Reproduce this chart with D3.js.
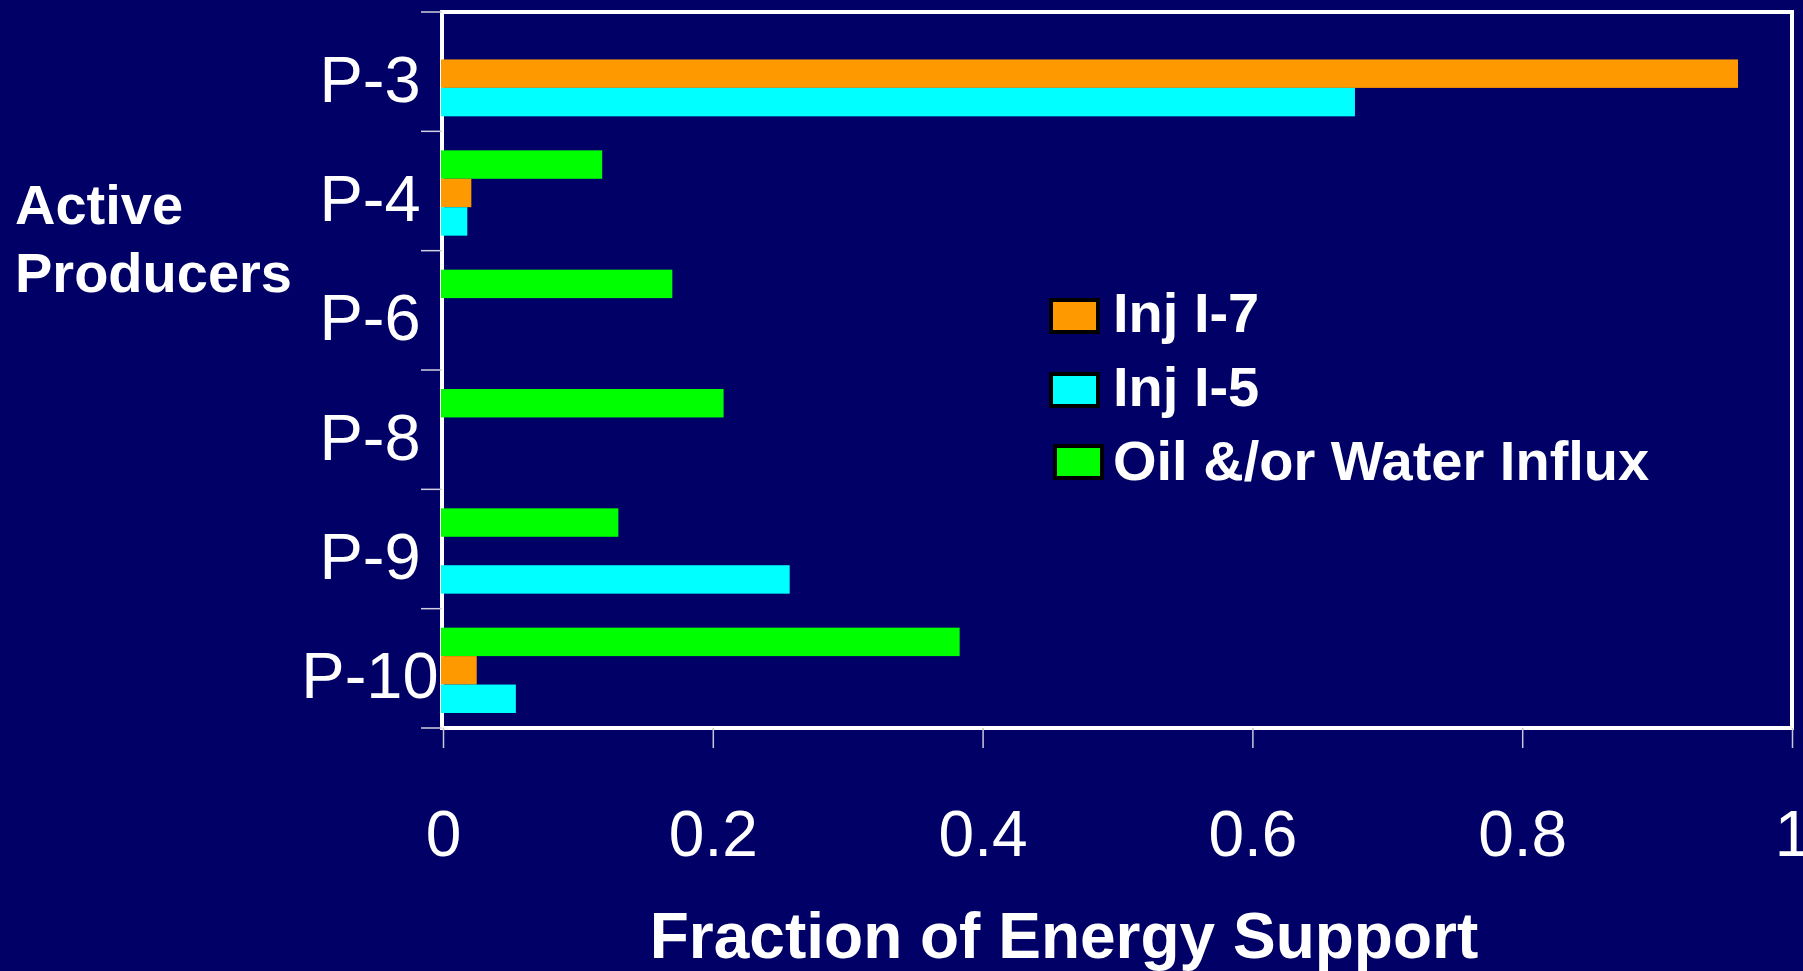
<!DOCTYPE html>
<html>
<head>
<meta charset="utf-8">
<script src="https://cdn.jsdelivr.net/npm/d3@7/dist/d3.min.js"></script>
<style>
  html, body { margin: 0; padding: 0; background: #000066; overflow: hidden; }
  svg { display: block; }
  text { font-family: "Liberation Sans", Arial, sans-serif; fill: #ffffff; }
</style>
</head>
<body>
<svg id="chart" width="1803" height="971"></svg>
<script>
// ---- Data ----
const categories = ["P-3", "P-4", "P-6", "P-8", "P-9", "P-10"];
const seriesNames = ["Inj I-7", "Inj I-5", "Oil &/or Water Influx"];
const inj7   = [0.960, 0.021, null, null, null, 0.025];
const inj5   = [0.676, 0.018, null, null, 0.257, 0.054];
const influx = [null, 0.118, 0.170, 0.208, 0.130, 0.383];
const xTicks = [0, 0.2, 0.4, 0.6, 0.8, 1];
const xTickLabels = ["0", "0.2", "0.4", "0.6", "0.8", "1"];

const colors = { "Inj I-7": "#FF9900", "Inj I-5": "#00FFFF", "Oil &/or Water Influx": "#00FF00" };
const valuesBySeries = { "Inj I-7": inj7, "Inj I-5": inj5, "Oil &/or Water Influx": influx };
// vertical order of bars inside a category (top to bottom)
const barOrder = ["Oil &/or Water Influx", "Inj I-7", "Inj I-5"];

// ---- Layout ----
const plot = { left: 442, right: 1792, top: 12, bottom: 728 };
const svg = d3.select("#chart");

const x = d3.scaleLinear().domain([0, 1]).range([plot.left + 1, plot.right]);
const y = d3.scaleBand().domain(categories).range([plot.top, plot.bottom]).paddingInner(0).paddingOuter(0);
const yInner = d3.scaleBand().domain(barOrder).range([19, y.bandwidth() - 15]).paddingInner(0).paddingOuter(0);

// Frame
svg.append("rect")
  .attr("x", plot.left).attr("y", plot.top)
  .attr("width", plot.right - plot.left).attr("height", plot.bottom - plot.top)
  .attr("fill", "none").attr("stroke", "#ffffff").attr("stroke-width", 4);

// Bars
const rows = [];
categories.forEach((c, i) => {
  barOrder.forEach(s => {
    const v = valuesBySeries[s][i];
    if (v != null && v > 0) rows.push({ c, s, v });
  });
});
svg.append("g").selectAll("rect").data(rows).join("rect")
  .attr("x", x(0) - 2)
  .attr("y", d => y(d.c) + yInner(d.s))
  .attr("width", d => x(d.v) - x(0) + 2)
  .attr("height", yInner.bandwidth())
  .attr("fill", d => colors[d.s]);

// X axis
const xAxis = d3.axisBottom(x).tickValues(xTicks).tickSize(20).tickFormat((d, i) => xTickLabels[i]);
const gx = svg.append("g").attr("transform", `translate(0,${plot.bottom})`).call(xAxis);
gx.select(".domain").remove();
gx.selectAll(".tick line").attr("stroke", "#c8c8dc").attr("stroke-width", 1.5);
gx.selectAll(".tick text")
  .attr("y", 128).attr("dy", 0)
  .attr("fill", "#ffffff")
  .style("font-size", "64px")
  .style("font-family", "'Liberation Sans', Arial, sans-serif");

// Y boundary ticks
const boundaries = categories.map(c => y(c)).concat([y.range()[1]]);
svg.append("g").selectAll("line").data(boundaries).join("line")
  .attr("x1", plot.left - 21).attr("x2", plot.left)
  .attr("y1", d => d).attr("y2", d => d)
  .attr("stroke", "#d0d0e0").attr("stroke-width", 1.5);

// Category labels
svg.append("g").selectAll("text").data(categories).join("text")
  .attr("x", 370)
  .attr("y", d => y(d) + y.bandwidth() / 2 + 30)
  .attr("text-anchor", "middle")
  .style("font-size", "65px")
  .text(d => d);

// Y title
const yt = svg.append("text").attr("x", 15).attr("y", 224)
  .style("font-size", "56px").style("font-weight", "bold");
yt.append("tspan").attr("x", 15).attr("y", 224).text("Active");
yt.append("tspan").attr("x", 15).attr("y", 292).text("Producers");

// X title
svg.append("text")
  .attr("x", 1064).attr("y", 958)
  .attr("text-anchor", "middle")
  .style("font-size", "64px").style("font-weight", "bold")
  .text("Fraction of Energy Support");

// Legend
const legendItems = [
  { name: "Inj I-7", sx: 1049, sy: 298, ty: 332 },
  { name: "Inj I-5", sx: 1049, sy: 372, ty: 406 },
  { name: "Oil &/or Water Influx", sx: 1053, sy: 444, ty: 480 }
];
const lg = svg.append("g");
legendItems.forEach(it => {
  lg.append("rect")
    .attr("x", it.sx + 2).attr("y", it.sy + 2)
    .attr("width", 47).attr("height", 32)
    .attr("fill", colors[it.name])
    .attr("stroke", "#000000").attr("stroke-width", 4);
  lg.append("text")
    .attr("x", 1113).attr("y", it.ty)
    .style("font-size", "56px").style("font-weight", "bold")
    .text(it.name);
});
</script>
</body>
</html>
